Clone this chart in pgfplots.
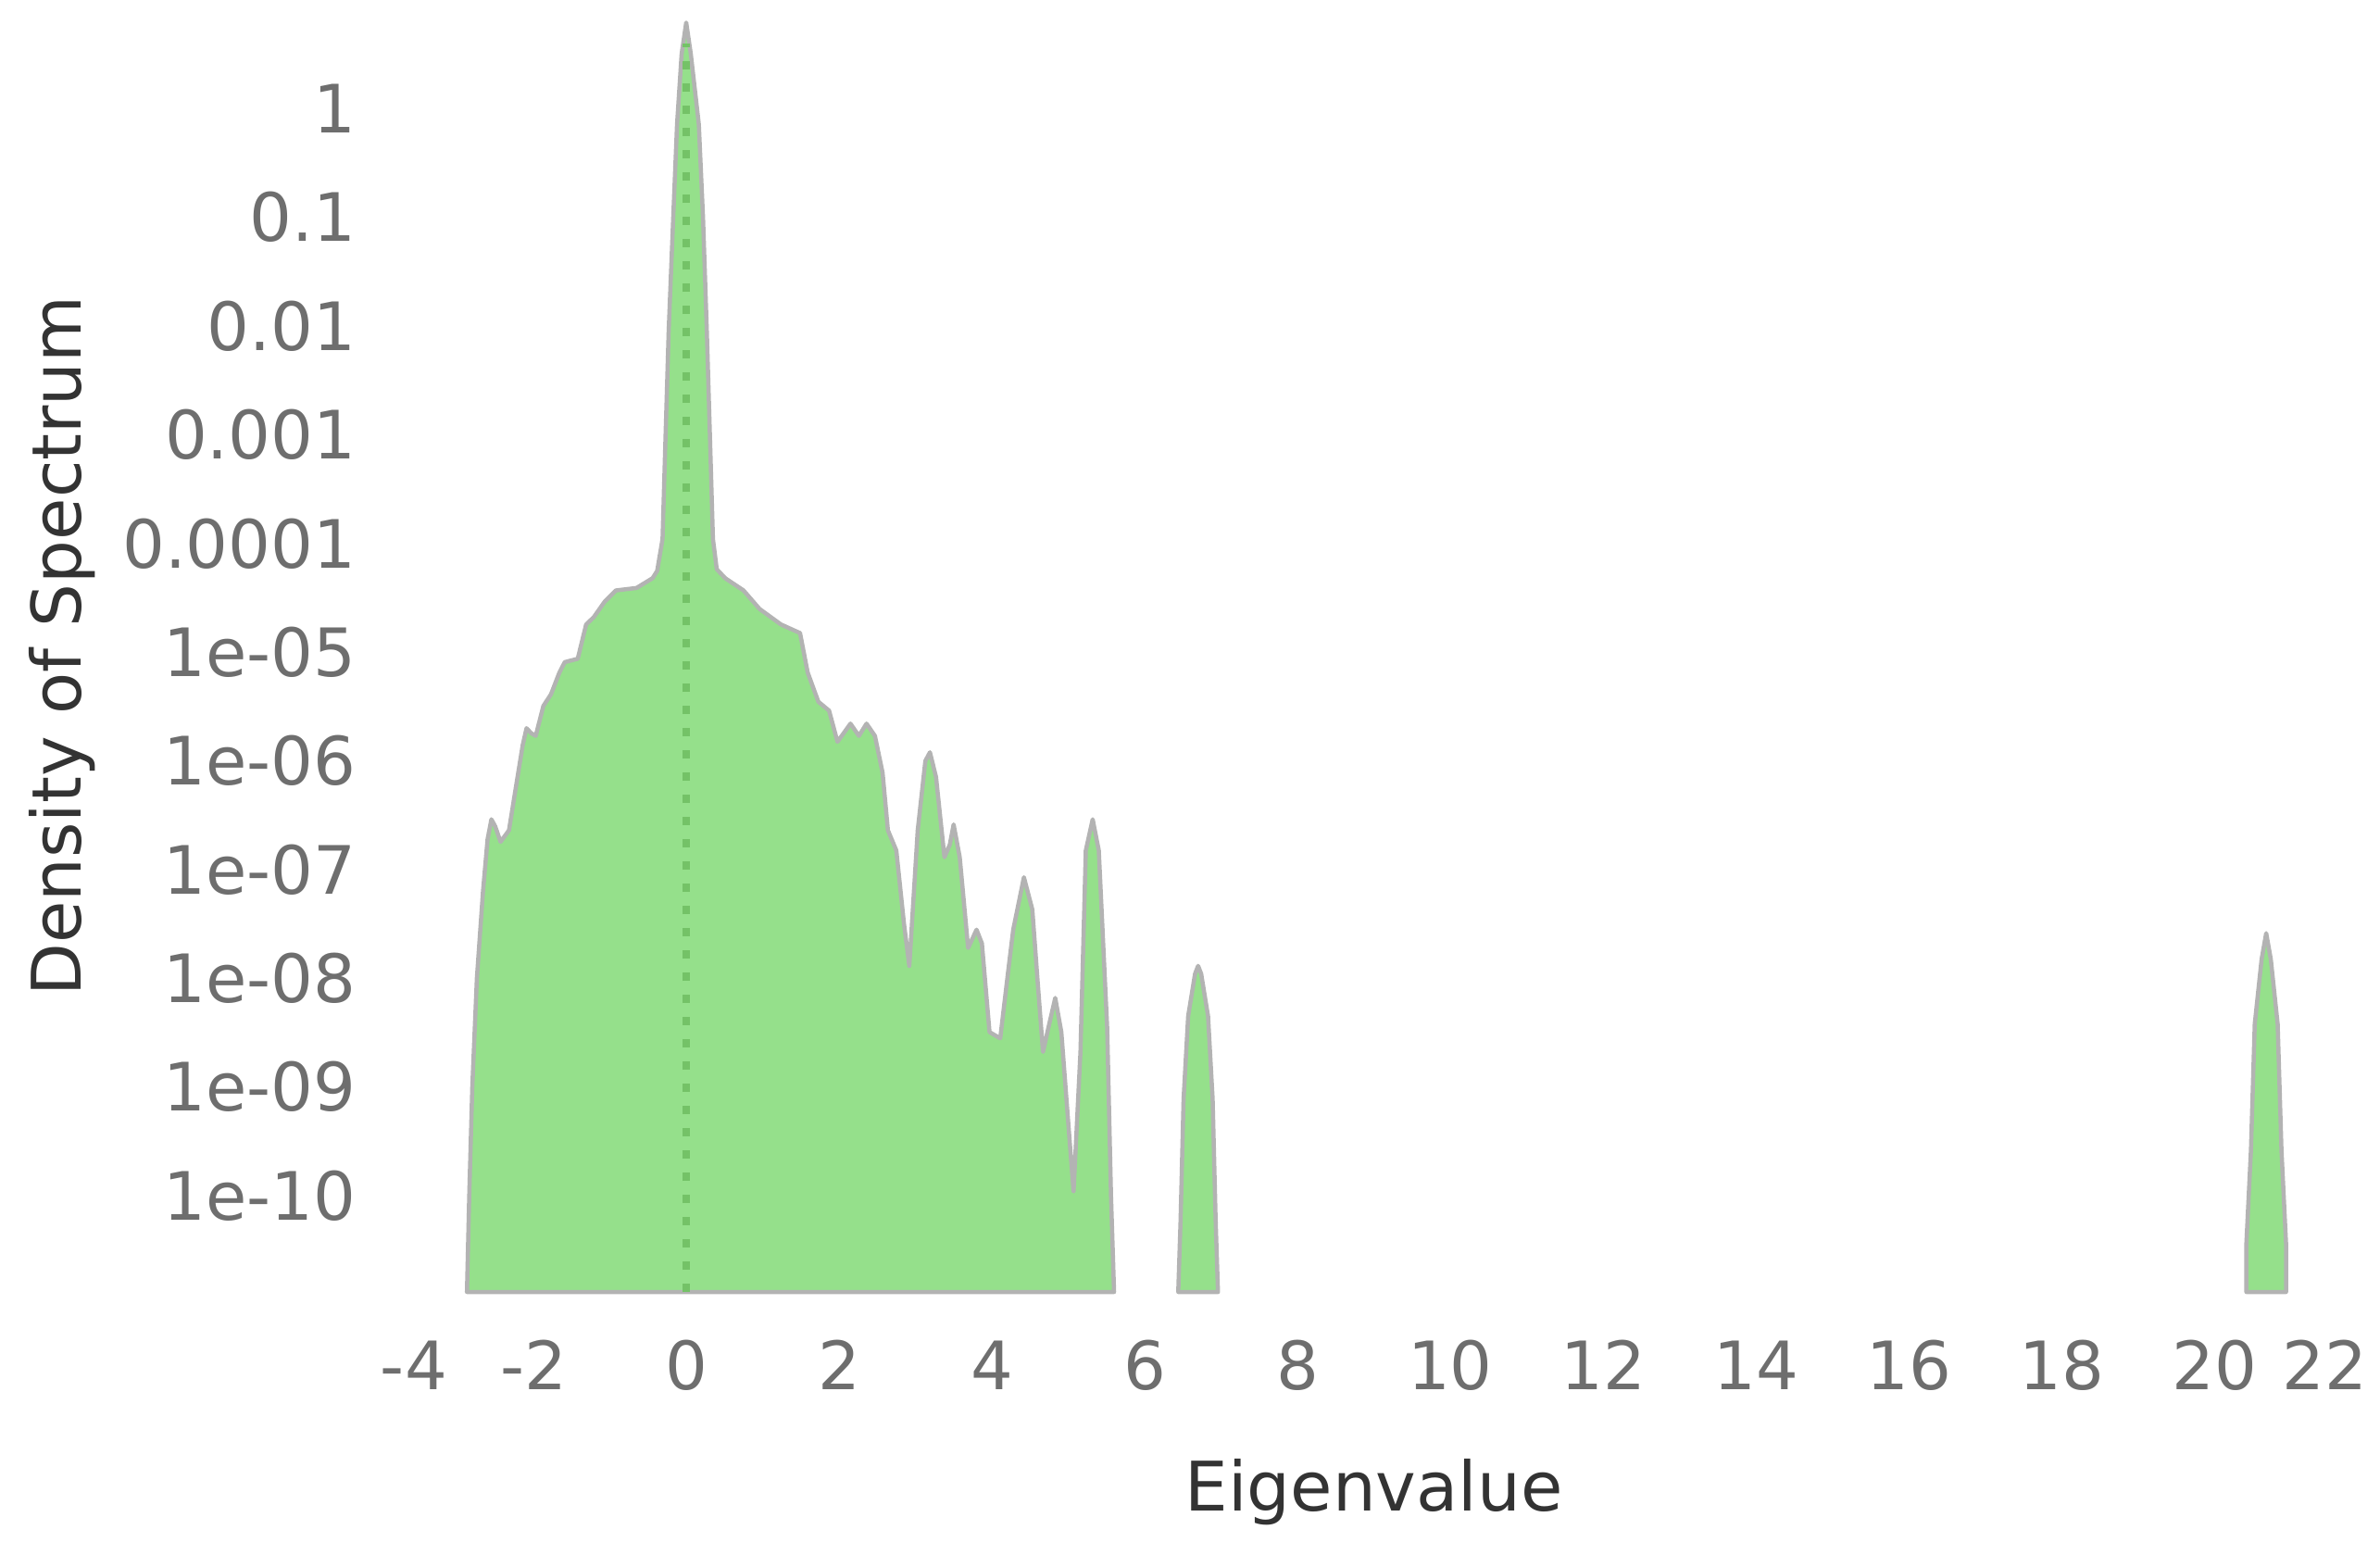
\documentclass[border=0pt]{standalone}
\usepackage{fontspec}
\setmainfont{DejaVu Sans}
\usepackage{pgfplots}
\pgfplotsset{compat=1.18}
\usetikzlibrary{calc}
\definecolor{specfill}{HTML}{95E08B}
\definecolor{specedge}{HTML}{B3B3B3}
\definecolor{specdot}{HTML}{74C267}
\definecolor{ticktext}{HTML}{6E6E6E}
\definecolor{labeltext}{HTML}{333333}

\begin{document}
\begin{tikzpicture}
\begin{axis}[
    name=ax,
    scale only axis,
    width=21.45cm, height=13.95cm,
    xmin=-4, xmax=22,
    ymode=log, ymin=1.3e-11, ymax=10,
    axis line style={draw=none},
    major tick length=0pt,
    minor tick num=0,
    xtick={-4,-2,0,2,4,6,8,10,12,14,16,18,20,22},
    % end labels sit flush with the plot edges
    xticklabels={\makebox[0pt][l]{-4},-2,0,2,4,6,8,10,12,14,16,18,20,\makebox[0pt][r]{22}},
    ytick={1,0.1,0.01,0.001,0.0001,1e-5,1e-6,1e-7,1e-8,1e-9,1e-10},
    yticklabels={1,0.1,0.01,0.001,0.0001,1e-05,1e-06,1e-07,1e-08,1e-09,1e-10},
    xticklabel style={font=\fontsize{20.5}{24}\selectfont, text=ticktext,
                      anchor=base, inner sep=0pt, yshift=-1.05cm},
    yticklabel style={font=\fontsize{20.5}{24}\selectfont, text=ticktext,
                      anchor=east, inner sep=0pt, xshift=-0.26cm},
    xlabel={Eigenvalue},
    ylabel={Density of Spectrum},
    xlabel style={font=\fontsize{21}{25}\selectfont, text=labeltext,
                  at={(axis description cs:0.5,-0.1692)}, anchor=base, inner sep=0pt},
    ylabel style={font=\fontsize{21}{25}\selectfont, text=labeltext,
                  at={(axis description cs:-0.1506,0.5)}, anchor=base, inner sep=0pt},
    clip=false,
]
% main bulk of the spectrum
\addplot[fill=specfill, draw=specedge, line width=0.45mm, line join=round]
  coordinates {
    (-2.87,1.3e-11) (-2.84,1e-10) (-2.80,1e-9) (-2.74,1e-8) (-2.66,6.3e-8)
    (-2.60,1.9e-7) (-2.55,2.9e-7) (-2.50,2.5e-7) (-2.43,1.8e-7) (-2.32,2.3e-7)
    (-2.22,6.3e-7) (-2.14,1.4e-6) (-2.09,2.0e-6) (-2.03,1.8e-6) (-1.97,1.7e-6)
    (-1.87,3.2e-6) (-1.77,4.1e-6) (-1.66,6.5e-6) (-1.59,8.1e-6) (-1.42,8.7e-6)
    (-1.31,1.8e-5) (-1.21,2.1e-5) (-1.07,2.9e-5) (-0.92,3.7e-5) (-0.65,3.9e-5)
    (-0.44,4.8e-5) (-0.38,5.6e-5) (-0.31,1.1e-4) (-0.27,1e-3) (-0.23,8.9e-3)
    (-0.17,0.1) (-0.12,0.72) (-0.06,3.2) (0,6.2) (0.06,3.2)
    (0.165,0.72) (0.22,0.1) (0.27,8.9e-3) (0.31,1e-3) (0.35,1.1e-4)
    (0.40,5.8e-5) (0.51,4.8e-5) (0.75,3.7e-5) (0.96,2.5e-5) (1.24,1.8e-5)
    (1.49,1.5e-5) (1.59,6.5e-6) (1.73,3.5e-6) (1.87,2.9e-6) (1.98,1.5e-6)
    (2.15,2.2e-6) (2.26,1.7e-6) (2.36,2.2e-6) (2.47,1.7e-6) (2.57,7.8e-7)
    (2.64,2.3e-7) (2.75,1.5e-7) (2.85,3.2e-8) (2.92,1.3e-8) (3.03,2.3e-7)
    (3.13,1.0e-6) (3.19,1.2e-6) (3.27,7.1e-7) (3.38,1.3e-7) (3.45,1.7e-7)
    (3.50,2.6e-7) (3.58,1.3e-7) (3.69,1.9e-8) (3.80,2.8e-8) (3.87,2.1e-8)
    (3.97,3.2e-9) (4.11,2.8e-9) (4.21,1.1e-8) (4.28,2.8e-8) (4.42,8.5e-8)
    (4.53,4.3e-8) (4.60,9.3e-9) (4.67,2.1e-9) (4.74,3.5e-9) (4.83,6.6e-9)
    (4.91,3.2e-9) (5.02,3.1e-10) (5.07,1.1e-10) (5.16,2.1e-9) (5.23,1.5e-7)
    (5.32,2.9e-7) (5.40,1.5e-7) (5.51,3.5e-9) (5.56,1.0e-10) (5.60,1.3e-11)
  } -- cycle;
% isolated eigenvalue near 6.7
\addplot[fill=specfill, draw=specedge, line width=0.45mm, line join=round]
  coordinates {
    (6.44,1.3e-11) (6.47,5.8e-11) (6.51,7.8e-10) (6.57,4.5e-9) (6.66,1.1e-8)
    (6.70,1.3e-8) (6.74,1.1e-8) (6.83,4.5e-9) (6.89,7.8e-10) (6.93,5.8e-11)
    (6.96,1.3e-11)
  } -- cycle;
% outlier near 20.7
\addplot[fill=specfill, draw=specedge, line width=0.45mm, line join=round]
  coordinates {
    (20.42,1.3e-11) (20.42,3.6e-11) (20.48,2.6e-10) (20.53,3.8e-9) (20.62,1.5e-8)
    (20.68,2.6e-8) (20.74,1.5e-8) (20.83,3.8e-9) (20.88,2.6e-10) (20.94,3.6e-11)
    (20.94,1.3e-11)
  } -- cycle;
% dotted marker at zero
\addplot[specdot, line width=0.8mm, dash pattern=on 0.9mm off 1.5mm]
  coordinates {(0,1.3e-11) (0,4)};
\end{axis}
\pgfresetboundingbox
\useasboundingbox ($(ax.south west)+(-4.11cm,-2.69cm)$) rectangle ($(ax.south west)+(21.59cm,13.95cm)$);
\end{tikzpicture}
\end{document}
